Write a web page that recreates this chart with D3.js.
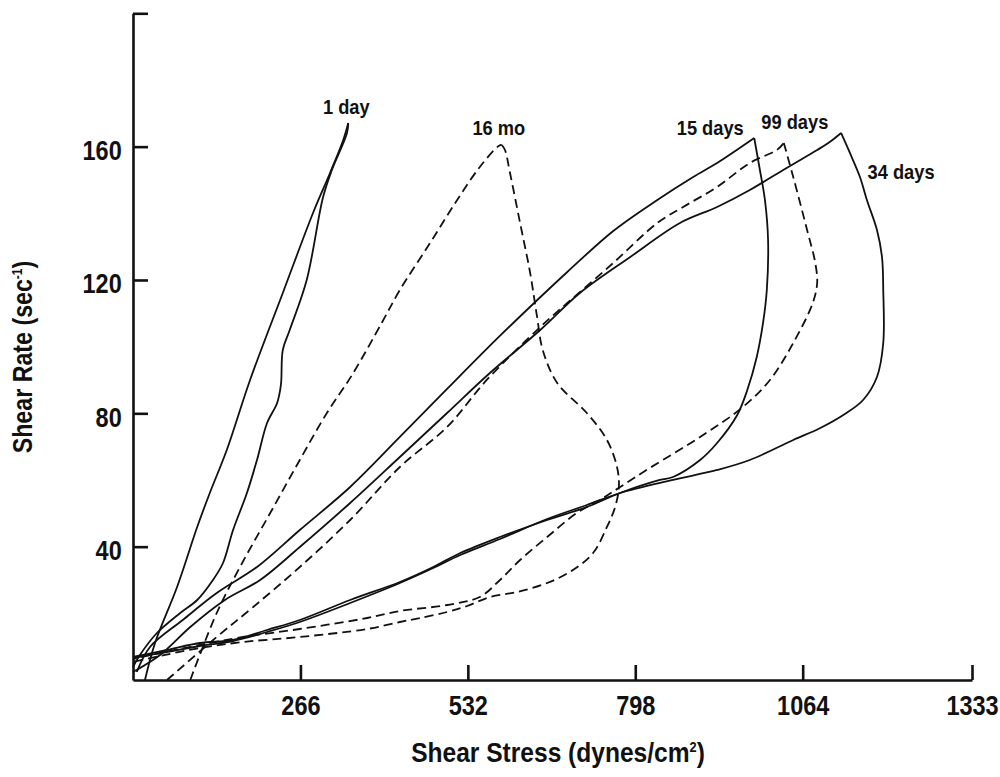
<!DOCTYPE html>
<html>
<head>
<meta charset="utf-8">
<script src="https://cdn.jsdelivr.net/npm/d3@7"></script>
<style>
  body { margin: 0; background: #fff; }
  svg text { font-family: "Liberation Sans", Arial, sans-serif; font-weight: bold; fill: #111; }
</style>
</head>
<body>
<div id="chart"></div>
<script>
const WIDTH = 1000;
const HEIGHT = 777;

// axis ticks
const stressTicks = [266, 532, 798, 1064, 1333];
const rateTicks = [40, 80, 120, 160, 200];

// curve labels
const labels = ["1 day", "16 mo", "15 days", "99 days", "34 days"];

// each loop = [shear stress, shear rate], rising branch then falling branch
const day1Up = [[19, 0], [35, 11.1], [70, 27.9], [102, 45.9], [122, 56.1], [149, 69], [186, 90], [238, 116.1],
  [286, 140.1], [313, 152.1], [334, 162], [342, 167.1]];
const day1Down = [[342, 167.1], [340, 164.1], [316, 153], [302, 144.9], [276, 120], [249, 105], [238, 99],
  [235, 88.5], [229, 83.1], [213, 77.1], [197, 66], [181, 56.1], [159, 45], [143, 35.1], [127, 30],
  [102, 24], [75, 20.1], [38, 14.1], [11, 7.5], [0, 3.9]];

const mo16Up = [[91, 0], [133, 20.1], [170, 33.9], [218, 50.1], [265, 66], [308, 80.1], [348, 91.5],
  [396, 107.4], [424, 117], [472, 131.1], [515, 144], [551, 153.9], [581, 160.2], [586, 160.5]];
const mo16Down = [[586, 160.5], [591, 159], [599, 152.1], [615, 137.1], [631, 122.1], [642, 108.9],
  [651, 99], [674, 89.1], [721, 80.1], [753, 72], [769, 63.9], [772, 57.9], [766, 51.9], [753, 45.9],
  [731, 38.1], [699, 33], [658, 29.1], [610, 26.4], [567, 24.9], [531, 22.2], [499, 20.4], [456, 18.6],
  [424, 17.4], [372, 15.3], [265, 12.9], [175, 11.4], [106, 9.6], [43, 7.2], [0, 5.4]];

const day15Up = [[6, 2.4], [27, 9.9], [79, 18], [133, 26.1], [197, 33.9], [265, 45], [345, 57.9],
  [424, 72.9], [499, 87.3], [578, 102.3], [639, 113.4], [690, 122.4], [763, 134.7],
  [833, 144], [890, 150.9], [928, 155.1], [987, 162.6]];
const day15Down = [[987, 162.6], [996, 153], [1004, 144], [1009, 132], [1007, 117], [1001, 107.1],
  [991, 96.9], [976, 87], [960, 79.5], [928, 71.1], [901, 66], [858, 60.9], [837, 60], [774, 56.1],
  [721, 51.9], [658, 48], [583, 42.9], [520, 38.1], [477, 33.9], [424, 29.4], [345, 24], [265, 18],
  [213, 15], [159, 12], [106, 11.1], [54, 9], [0, 6.9]];

const day99Up = [[54, 0], [133, 12.9], [191, 21.9], [265, 33.9], [345, 48], [424, 63.9], [499, 75.9],
  [562, 90], [647, 105.9], [690, 113.1], [763, 125.1], [833, 137.1], [874, 141.9], [928, 147.9],
  [980, 155.1], [1023, 159], [1034, 161.1]];
const day99Down = [[1034, 161.1], [1049, 150.9], [1071, 135], [1084, 125.1], [1087, 119.1],
  [1080, 113.1], [1049, 101.1], [1012, 90], [969, 81.9], [901, 72.9], [821, 63.6],
  [774, 57.9], [742, 54], [705, 50.1], [658, 42.9], [615, 36], [583, 30], [551, 24.9], [499, 22.5],
  [424, 20.7], [372, 18.6], [265, 15.3], [175, 12.9], [106, 10.5], [43, 8.1], [0, 6.3]];

const day34Up = [[0, 2.4], [43, 7.5], [91, 15.9], [146, 24], [202, 30], [265, 39.9], [345, 53.1],
  [424, 66.9], [499, 80.1], [567, 92.1], [647, 105], [710, 116.1], [790, 126.9], [869, 137.1],
  [928, 141.9], [980, 147], [1033, 153], [1087, 159], [1107, 161.4], [1125, 164.1]];
const day34Down = [[1125, 164.1], [1139, 158.1], [1155, 150.9], [1166, 144], [1182, 135],
  [1190, 126.9], [1192, 117], [1192, 101.1], [1182, 90.9], [1160, 84], [1131, 79.8], [1092, 75.6],
  [1049, 72], [980, 66], [928, 63], [858, 60], [774, 56.1], [721, 52.5], [658, 48.3], [583, 42.3],
  [520, 37.5], [477, 33.6], [424, 29.1], [345, 23.1], [265, 17.4], [213, 14.4], [159, 11.7],
  [106, 10.2], [54, 8.4], [0, 6.6]];

const loops = [
  { name: labels[0], up: day1Up, down: day1Down, dashed: false, dx: -2, dy: -9 },
  { name: labels[1], up: mo16Up, down: mo16Down, dashed: true, dx: -3, dy: -10 },
  { name: labels[2], up: day15Up, down: day15Down, dashed: false, dx: -44, dy: -3 },
  { name: labels[3], up: day99Up, down: day99Down, dashed: true, dx: 11, dy: -14 },
  { name: labels[4], up: day34Up, down: day34Down, dashed: false, dx: 60, dy: 46 }
];

const NARROW = 0.87; // condensed look of the original lettering

const svg = d3.select("#chart").append("svg")
  .attr("width", WIDTH)
  .attr("height", HEIGHT);

const x = d3.scaleLinear().domain([0, 1333]).range([133, 972]);
const y = d3.scaleLinear().domain([0, 200]).range([680, 13.3]);

const line = d3.line()
  .x(d => x(d[0]))
  .y(d => y(d[1]))
  .curve(d3.curveCatmullRom.alpha(0.5));

// curves
const curves = svg.append("g");
loops.forEach(s => {
  [s.up, s.down].forEach(branch => {
    curves.append("path")
      .attr("d", line(branch))
      .attr("fill", "none")
      .attr("stroke", "#111")
      .attr("stroke-width", 1.8)
      .attr("stroke-linejoin", "round")
      .attr("stroke-dasharray", s.dashed ? "9,5" : null);
  });
  const peak = s.up[s.up.length - 1];
  svg.append("text")
    .attr("transform", `translate(${x(peak[0]) + s.dx}, ${y(peak[1]) + s.dy}) scale(${NARROW}, 1)`)
    .attr("text-anchor", "middle")
    .style("font-size", "21px")
    .text(s.name);
});

// axes, ticks pointing inward
const xAxis = svg.append("g")
  .attr("transform", `translate(0, ${y(0)})`)
  .call(d3.axisBottom(x).tickValues(stressTicks).tickSizeInner(-15).tickSizeOuter(0).tickPadding(12)
    .tickFormat(d3.format("d")));

const yAxis = svg.append("g")
  .attr("transform", `translate(${x(0)}, 0)`)
  .call(d3.axisLeft(y).tickValues(rateTicks).tickSizeInner(-15).tickSizeOuter(0).tickPadding(13)
    .tickFormat(d => d === 200 ? "" : d));

[xAxis, yAxis].forEach(g => {
  g.selectAll("path, line").attr("stroke", "#111").attr("stroke-width", 2.6);
  g.selectAll("text").style("font-size", "27px").attr("fill", "#111")
    .style("font-family", "'Liberation Sans', Arial, sans-serif")
    .attr("transform", `scale(${NARROW}, 1)`);
});
yAxis.selectAll("text").attr("dy", "0.47em");
xAxis.selectAll("text").attr("dy", "0.85em");

// axis titles
const xTitle = svg.append("text")
  .attr("transform", "translate(558, 762) scale(0.91, 1)")
  .attr("text-anchor", "middle")
  .style("font-size", "27px");
xTitle.append("tspan").text("Shear Stress (dynes/cm");
xTitle.append("tspan").text("2").style("font-size", "14px").attr("dy", -10);
xTitle.append("tspan").text(")").attr("dy", 10);

const yTitle = svg.append("text")
  .attr("transform", "translate(32, 357) rotate(-90) scale(0.86, 1)")
  .attr("text-anchor", "middle")
  .style("font-size", "27px");
yTitle.append("tspan").text("Shear Rate (sec");
yTitle.append("tspan").text("-1").style("font-size", "14px").attr("dy", -10);
yTitle.append("tspan").text(")").attr("dy", 10);
</script>
</body>
</html>
